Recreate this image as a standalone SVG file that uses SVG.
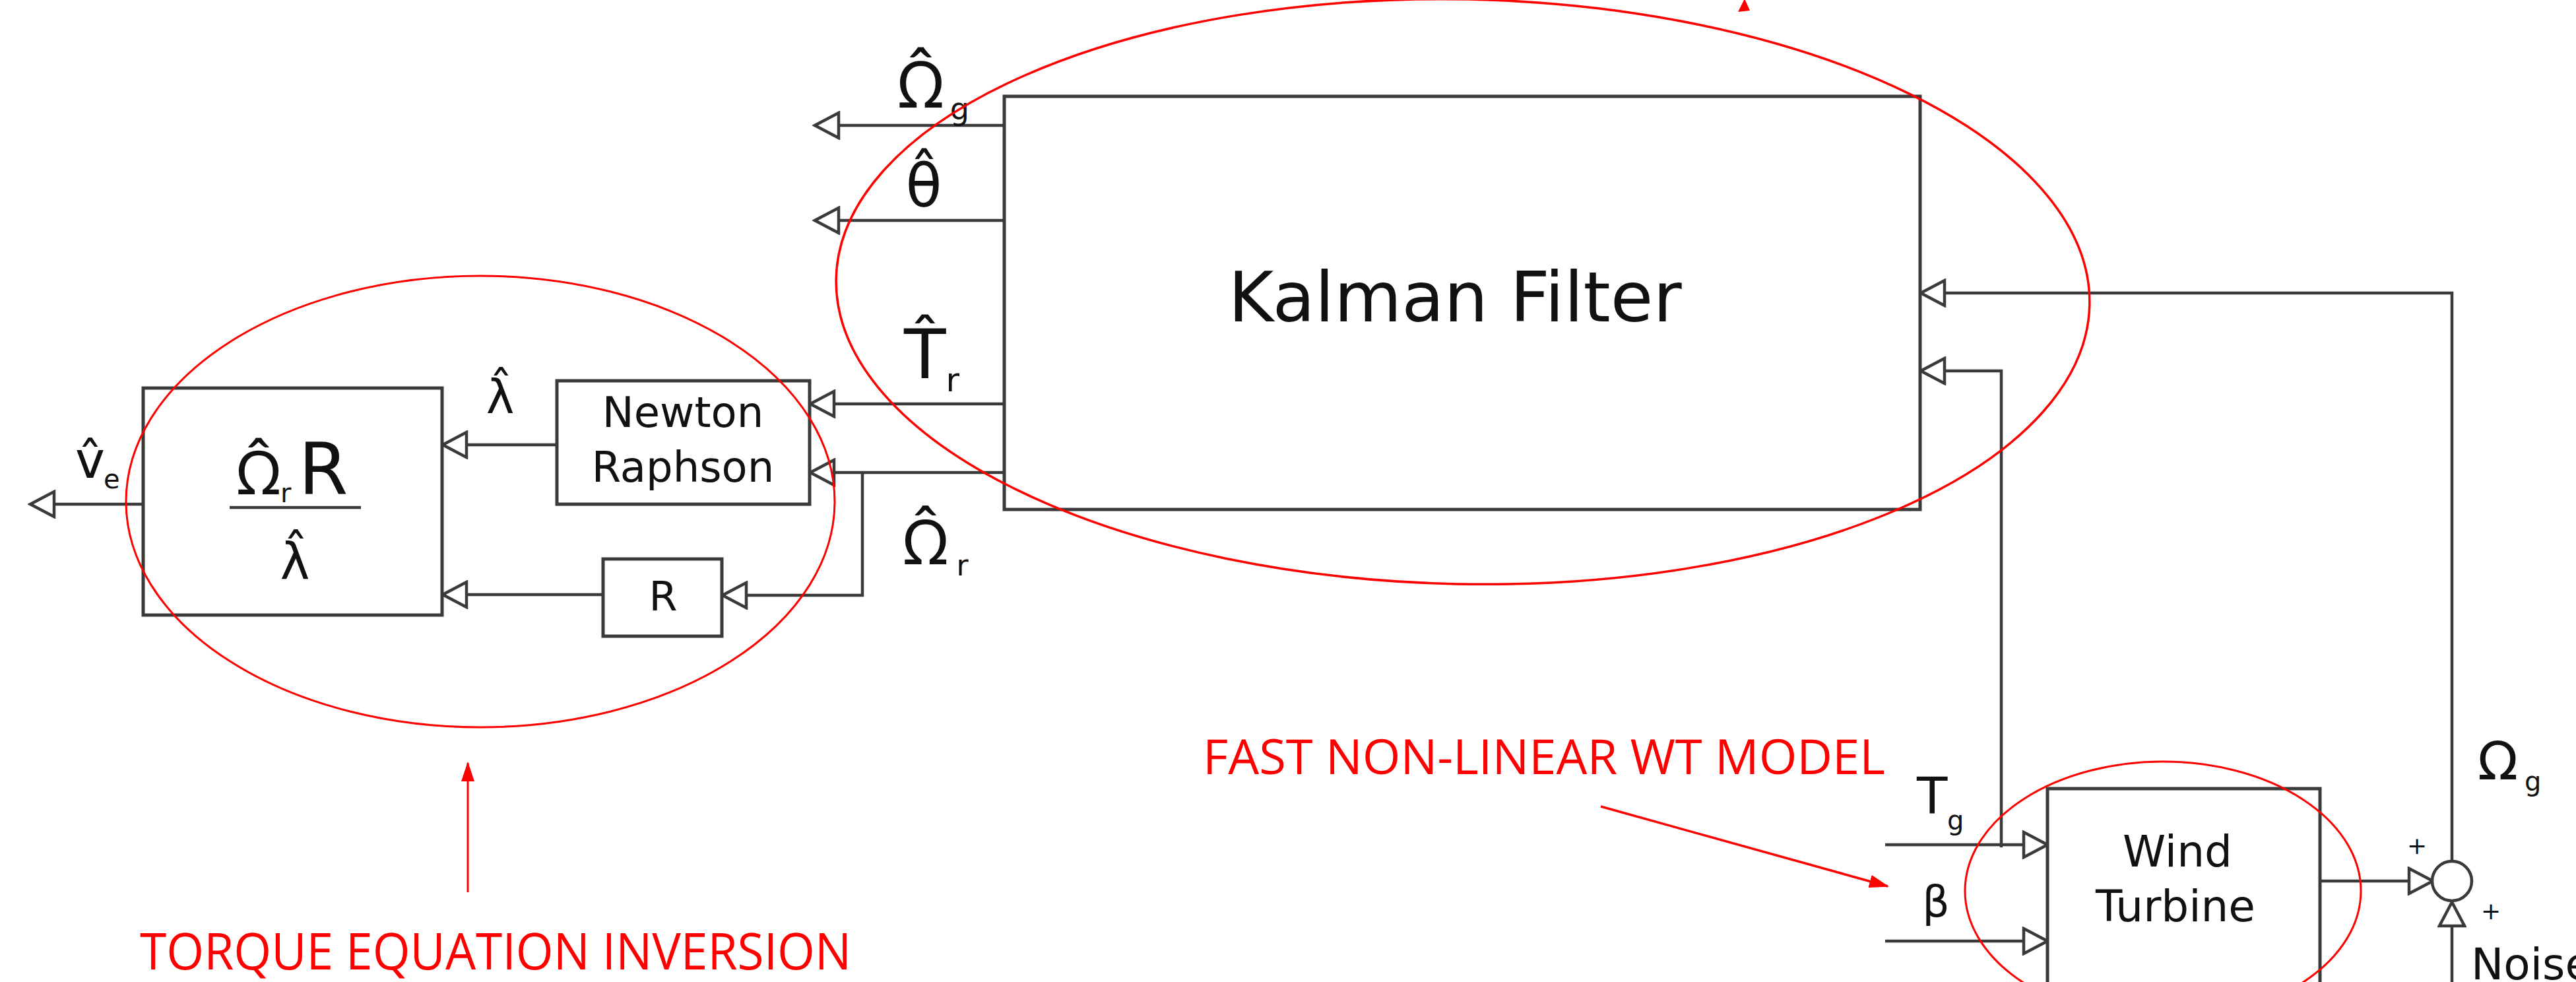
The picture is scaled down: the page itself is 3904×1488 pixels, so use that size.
<svg xmlns="http://www.w3.org/2000/svg" width="3904" height="1488" viewBox="0 0 3904 1488">
<style>
.box{fill:#fff;stroke:#3a3a3a;stroke-width:5}
.ln{fill:none;stroke:#3a3a3a;stroke-width:4.5}
.t{font-family:"DejaVu Sans",Verdana,sans-serif;fill:#111}
.n{font-family:"Noto Sans","DejaVu Sans",sans-serif}
.red{fill:none;stroke:#ff0000}
.rt{font-family:"Open Sans","Liberation Sans",Arial,sans-serif;fill:#ff0000}
.m{text-anchor:middle}
</style>
<defs>
<marker id="ah" viewBox="0 0 44 44" refX="40" refY="22" markerWidth="44" markerHeight="44" markerUnits="userSpaceOnUse" orient="auto">
<path d="M4,3 L40,22 L4,41 Z" fill="#fff" stroke="#3a3a3a" stroke-width="4.5" stroke-linejoin="miter"/>
</marker>
<marker id="rah" viewBox="0 0 30 20" refX="28" refY="10" markerWidth="30" markerHeight="20" markerUnits="userSpaceOnUse" orient="auto">
<path d="M0,0 L30,10 L0,20 Z" fill="#ff0000"/>
</marker>
</defs>
<rect width="3904" height="1488" fill="#fff"/>

<g id="connectors">
<path class="ln" d="M1522,190 H1235" marker-end="url(#ah)"/>
<path class="ln" d="M1522,334 H1235" marker-end="url(#ah)"/>
<path class="ln" d="M1522,612 H1228" marker-end="url(#ah)"/>
<path class="ln" d="M1522,716 H1228" marker-end="url(#ah)"/>
<path class="ln" d="M1307,716 V902 H1095" marker-end="url(#ah)"/>
<path class="ln" d="M844,674 H671" marker-end="url(#ah)"/>
<path class="ln" d="M914,901 H671" marker-end="url(#ah)"/>
<path class="ln" d="M217,764 H46" marker-end="url(#ah)"/>
<path class="ln" d="M3716,1304 V444 H2911" marker-end="url(#ah)"/>
<path class="ln" d="M3033,1284 V562 H2911" marker-end="url(#ah)"/>
<path class="ln" d="M2857,1280 H3103" marker-end="url(#ah)"/>
<path class="ln" d="M2857,1426 H3103" marker-end="url(#ah)"/>
<path class="ln" d="M3516,1335 H3687" marker-end="url(#ah)"/>
<path class="ln" d="M3716,1488 V1367" marker-end="url(#ah)"/>
</g>

<g id="kalman">
<rect class="box" x="1522" y="146" width="1388" height="626"/>
<text class="t m" x="2205" y="487" font-size="105">Kalman Filter</text>
</g>

<g id="newton">
<rect class="box" x="844" y="577" width="383" height="187"/>
<text class="t m" x="1035" y="647" font-size="64">Newton</text>
<text class="t m" x="1035" y="730" font-size="64">Raphson</text>
</g>

<g id="rgain">
<rect class="box" x="914" y="847" width="180" height="117"/>
<text class="t m" x="1005" y="925" font-size="62">R</text>
</g>

<g id="division">
<rect class="box" x="217" y="588" width="453" height="344"/>
<text class="t" x="359" y="749" font-size="92"><tspan class="n">Ω̂</tspan><tspan font-size="40" dy="12">r</tspan><tspan font-size="108" dy="-12" dx="11">R</tspan></text>
<path class="ln" d="M348,769 H547"/>
<text class="t m" x="447" y="877" font-size="76">λ̂</text>
</g>

<g id="windturbine">
<rect class="box" x="3103" y="1195" width="413" height="310"/>
<text class="t m" x="3300" y="1313" font-size="66">Wind</text>
<text class="t m" x="3297" y="1396" font-size="66">Turbine</text>
</g>

<g id="sum">
<circle cx="3716" cy="1335" r="30" fill="#fff" stroke="#3a3a3a" stroke-width="4.5"/>
<text class="t m" x="3663" y="1294" font-size="36">+</text>
<text class="t m" x="3775" y="1393" font-size="36">+</text>
</g>

<g id="labels">
<text class="t" x="1361" y="163" font-size="96"><tspan class="n">Ω̂</tspan><tspan font-size="46" dy="18" dx="10">g</tspan></text>
<text class="t m" x="1400" y="313" font-size="90">θ̂</text>
<text class="t" x="1370" y="573" font-size="104">T̂<tspan font-size="50" dy="20">r</tspan></text>
<text class="t" x="1369" y="855" font-size="94"><tspan class="n">Ω̂</tspan><tspan font-size="44" dy="17" dx="13">r</tspan></text>
<text class="t m" x="758" y="626" font-size="72">λ̂</text>
<text class="t" x="114" y="724" font-size="76">v̂<tspan font-size="40" dy="16" dx="-2">e</tspan></text>
<text class="t"><tspan x="2905" y="1233" font-size="76">T</tspan><tspan x="2951" y="1257" font-size="40">g</tspan></text>
<text class="t m" x="2934" y="1389" font-size="65">β</text>
<text class="t"><tspan x="3755" y="1181" font-size="80">Ω</tspan><tspan x="3826" y="1198" font-size="40">g</tspan></text>
<text class="t" x="3745" y="1484" font-size="66">Noise</text>
</g>

<g id="annotations">
<ellipse class="red" cx="2217" cy="442" rx="950" ry="443" stroke-width="3.5" transform="rotate(1.2 2217 442)"/>
<ellipse class="red" cx="728" cy="760" rx="537" ry="342" stroke-width="3"/>
<ellipse class="red" cx="3278" cy="1350" rx="300" ry="196" stroke-width="3"/>
<polygon points="2634,18 2644,-2 2652,16" fill="#ff0000"/>
<text class="rt" x="1823" y="1173" font-size="74" textLength="1034" lengthAdjust="spacingAndGlyphs">FAST NON-LINEAR WT MODEL</text>
<path d="M2426,1222 L2861,1343" stroke="#ff0000" stroke-width="3.5" fill="none" marker-end="url(#rah)"/>
<text class="rt" x="212" y="1469" font-size="76" textLength="1078" lengthAdjust="spacingAndGlyphs">TORQUE EQUATION INVERSION</text>
<path d="M709,1352 V1156" stroke="#ff0000" stroke-width="3" fill="none" marker-end="url(#rah)"/>
</g>
</svg>
